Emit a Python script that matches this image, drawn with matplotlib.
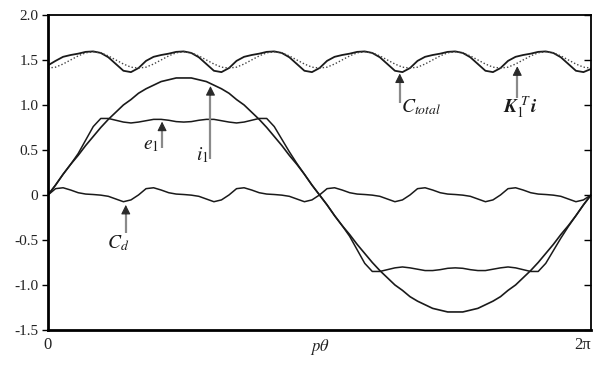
import numpy as np
import matplotlib
matplotlib.use("Agg")
import matplotlib.pyplot as plt
from matplotlib.transforms import ScaledTranslation

plt.rcParams['font.family'] = ['Liberation Serif', 'DejaVu Serif']
plt.rcParams['mathtext.fontset'] = 'stix'

# sample angles, every 5 degrees over one electrical period
theta_deg = np.arange(0, 361, 5)

i1 = [0.00, 0.11, 0.23, 0.34, 0.44, 0.55, 0.65, 0.75, 0.84, 0.92, 1.00, 1.06, 1.13, 1.18, 1.22, 1.26, 1.28, 1.30, 1.30,
      1.30, 1.28, 1.26, 1.22, 1.18, 1.13, 1.06, 1.00, 0.92, 0.84, 0.75, 0.65, 0.55, 0.44, 0.34, 0.23, 0.11, 0.00,
      -0.11, -0.23, -0.34, -0.44, -0.55, -0.65, -0.75, -0.84, -0.92, -1.00, -1.06, -1.13, -1.18, -1.22, -1.26, -1.28, -1.30, -1.30,
      -1.30, -1.28, -1.26, -1.22, -1.18, -1.13, -1.06, -1.00, -0.92, -0.84, -0.75, -0.65, -0.55, -0.44, -0.34, -0.23, -0.11, 0.00]

e1 = [0.00, 0.11, 0.23, 0.34, 0.46, 0.61, 0.76, 0.85, 0.85, 0.83, 0.81, 0.80, 0.81, 0.825, 0.84, 0.84, 0.83, 0.815, 0.81,
      0.815, 0.83, 0.84, 0.84, 0.825, 0.81, 0.80, 0.81, 0.83, 0.85, 0.85, 0.76, 0.62, 0.48, 0.35, 0.23, 0.11, 0.00,
      -0.11, -0.23, -0.34, -0.46, -0.61, -0.76, -0.85, -0.85, -0.83, -0.81, -0.80, -0.81, -0.825, -0.84, -0.84, -0.83, -0.815, -0.81,
      -0.815, -0.83, -0.84, -0.84, -0.825, -0.81, -0.80, -0.81, -0.83, -0.85, -0.85, -0.76, -0.62, -0.48, -0.35, -0.23, -0.11, 0.00]

c_d = [0.00, 0.07, 0.08, 0.055, 0.025, 0.01, 0.005, -0.002, -0.015, -0.045, -0.075, -0.055,
       0.00, 0.07, 0.08, 0.055, 0.025, 0.01, 0.005, -0.002, -0.015, -0.045, -0.075, -0.055,
       0.00, 0.07, 0.08, 0.055, 0.025, 0.01, 0.005, -0.002, -0.015, -0.045, -0.075, -0.055,
       0.00, 0.07, 0.08, 0.055, 0.025, 0.01, 0.005, -0.002, -0.015, -0.045, -0.075, -0.055,
       0.00, 0.07, 0.08, 0.055, 0.025, 0.01, 0.005, -0.002, -0.015, -0.045, -0.075, -0.055,
       0.00, 0.07, 0.08, 0.055, 0.025, 0.01, 0.005, -0.002, -0.015, -0.045, -0.075, -0.055,
       0.00]

k1t_i = [1.41, 1.42, 1.455, 1.50, 1.545, 1.58, 1.59, 1.58, 1.545, 1.50, 1.455, 1.42,
         1.41, 1.42, 1.455, 1.50, 1.545, 1.58, 1.59, 1.58, 1.545, 1.50, 1.455, 1.42,
         1.41, 1.42, 1.455, 1.50, 1.545, 1.58, 1.59, 1.58, 1.545, 1.50, 1.455, 1.42,
         1.41, 1.42, 1.455, 1.50, 1.545, 1.58, 1.59, 1.58, 1.545, 1.50, 1.455, 1.42,
         1.41, 1.42, 1.455, 1.50, 1.545, 1.58, 1.59, 1.58, 1.545, 1.50, 1.455, 1.42,
         1.41, 1.42, 1.455, 1.50, 1.545, 1.58, 1.59, 1.58, 1.545, 1.50, 1.455, 1.42,
         1.41]

c_total = [1.44, 1.49, 1.535, 1.555, 1.57, 1.59, 1.595, 1.578, 1.53, 1.455, 1.38, 1.365,
           1.41, 1.49, 1.535, 1.555, 1.57, 1.59, 1.595, 1.578, 1.53, 1.455, 1.38, 1.365,
           1.41, 1.49, 1.535, 1.555, 1.57, 1.59, 1.595, 1.578, 1.53, 1.455, 1.38, 1.365,
           1.41, 1.49, 1.535, 1.555, 1.57, 1.59, 1.595, 1.578, 1.53, 1.455, 1.38, 1.365,
           1.41, 1.49, 1.535, 1.555, 1.57, 1.59, 1.595, 1.578, 1.53, 1.455, 1.38, 1.365,
           1.41, 1.49, 1.535, 1.555, 1.57, 1.59, 1.595, 1.578, 1.53, 1.455, 1.38, 1.365,
           1.40]

y_ticks = [-1.5, -1.0, -0.5, 0, 0.5, 1.0, 1.5, 2.0]
y_ticklabels = ['-1.5', '-1.0', '-0.5', '0', '0.5', '1.0', '1.5', '2.0']
x_ticklabels = ['0', r'$p\theta$', '2π']

x = np.deg2rad(theta_deg)

fig = plt.figure(figsize=(6, 3.65), dpi=100)
ax = fig.add_axes([0.08, 0.096, 0.905, 0.863])

line_col = '#1a1a1a'
ax.plot(x, i1, color=line_col, lw=1.2)
ax.plot(x, e1, color=line_col, lw=1.1)
ax.plot(x, c_d, color=line_col, lw=1.1)
ax.plot(x, c_total, color=line_col, lw=1.3)
ax.plot(x, k1t_i, color='#444444', lw=1.0, ls=(0, (1, 1.5)))

ax.set_xlim(0, 2 * np.pi)
ax.set_ylim(-1.5, 2.0)
ax.set_yticks(y_ticks)
ax.set_yticklabels(y_ticklabels, fontsize=11, color='#222222')
ax.set_xticks([0, np.pi, 2 * np.pi])
ax.set_xticklabels(x_ticklabels, fontsize=12, color='#222222')
ax.tick_params(axis='x', length=0, pad=5)
ax.tick_params(axis='y', direction='out', length=4, width=1, right=True, pad=3)
# right side ticks point inward
for t in ax.yaxis.get_major_ticks():
    t.tick2line.set_marker(matplotlib.lines.TICKLEFT)
    t.tick2line.set_markersize(5)

# keep "2π" inside the figure
last = ax.get_xticklabels()[-1]
last.set_transform(last.get_transform() + ScaledTranslation(-6 / 72, 0, fig.dpi_scale_trans))

ax.spines['left'].set_linewidth(2.0)
ax.spines['bottom'].set_linewidth(2.0)
ax.spines['top'].set_linewidth(1.3)
ax.spines['right'].set_linewidth(1.3)

head_kw = dict(arrowstyle='-|>', color='#2a2a2a', lw=0.8, mutation_scale=14, shrinkA=0, shrinkB=0)

# (tip x, tip y, tail y, label, label x, label y, ha)
notes = [
    (1.32, 0.815, 0.52, r'$e_1$', 1.28, 0.55, 'right'),
    (1.88, 1.21, 0.40, r'$i_1$', 1.86, 0.44, 'right'),
    (4.07, 1.35, 1.02, r'$C_{total}$', 4.09, 0.98, 'left'),
    (5.43, 1.43, 1.08, r'$\mathbfit{K}_1^{\ T}\,\mathbfit{i}$', 5.27, 0.98, 'left'),
    (0.90, -0.11, -0.42, r'$C_d$', 0.68, -0.53, 'left'),
]
for tx, ty, by, lab, lx, ly, ha in notes:
    # grey shaft, dark head
    ax.plot([tx, tx], [by, ty - 0.07], color='#8a8a8a', lw=1.6, solid_capstyle='butt')
    ax.annotate('', xy=(tx, ty), xytext=(tx, ty - 0.1), arrowprops=head_kw)
    ax.text(lx, ly, lab, fontsize=14, ha=ha, va='center', color='#1a1a1a')

fig.savefig('out.png', dpi=100)
